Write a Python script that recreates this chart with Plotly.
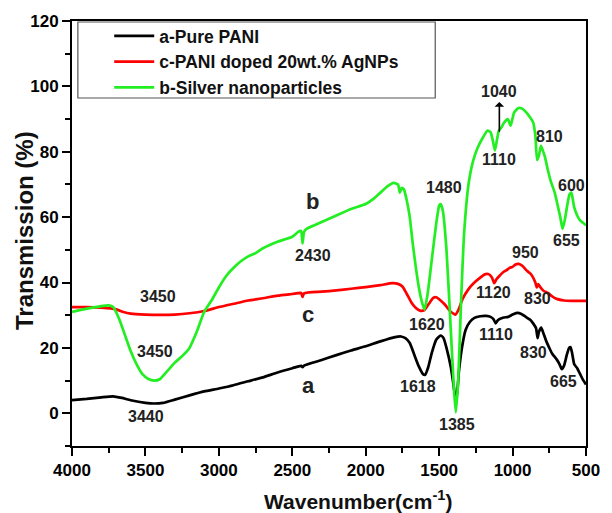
import plotly.graph_objects as go

# ---------------- data ----------------
wn_a = [4000, 3900, 3800, 3720, 3660, 3600, 3500, 3440, 3380, 3300, 3200, 3100, 3000, 2900,
        2800, 2700, 2600, 2500, 2440, 2430, 2420, 2300, 2200, 2100, 2000, 1900, 1800, 1760,
        1730, 1700, 1670, 1640, 1610, 1595, 1575, 1550, 1520, 1490, 1470, 1450, 1420, 1400,
        1390, 1380, 1365, 1345, 1320, 1290, 1260, 1220, 1180, 1150, 1130, 1115, 1100, 1080,
        1060, 1030, 1000, 970, 940, 910, 880, 860, 840, 830, 820, 805, 790, 770, 750, 730,
        700, 680, 665, 650, 630, 615, 605, 595, 580, 560, 540, 520, 500]
tr_a = [4.0, 4.4, 4.9, 5.2, 4.7, 4.0, 3.2, 3.0, 3.2, 4.2, 5.5, 6.7, 7.6, 8.6,
        9.8, 11.0, 12.5, 13.8, 14.5, 14.1, 14.6, 16.3, 17.8, 19.2, 20.5, 22.0, 23.3, 23.5,
        23.0, 21.5, 18.0, 14.5, 12.0, 11.8, 14.0, 18.5, 22.5, 23.8, 23.0, 20.0, 14.0, 8.0,
        5.0, 5.5, 13.0, 20.0, 25.5, 28.0, 29.2, 29.7, 29.8, 29.5, 28.8, 27.5, 28.5, 29.0,
        29.3, 29.5, 30.2, 30.7, 30.4, 29.5, 28.6, 27.5, 26.0, 23.0, 25.0, 26.2, 24.5, 22.0, 20.0, 18.2,
        16.5, 15.0, 13.5, 14.5, 18.0, 20.0, 20.2, 18.5, 15.0, 13.8, 12.0, 10.2, 8.8]

wn_c = [4000, 3900, 3800, 3700, 3650, 3600, 3500, 3400, 3300, 3200, 3100, 3000, 2900, 2800,
        2700, 2600, 2500, 2440, 2430, 2420, 2300, 2200, 2100, 2000, 1900, 1820, 1780, 1750,
        1720, 1690, 1660, 1630, 1600, 1570, 1540, 1520, 1490, 1460, 1430, 1400, 1390, 1370,
        1340, 1300, 1260, 1220, 1190, 1160, 1140, 1125, 1110, 1090, 1060, 1040, 1020, 1000,
        980, 960, 940, 920, 900, 880, 860, 845, 835, 825, 810, 790, 760, 730, 700, 650,
        600, 500]
tr_c = [32.5, 32.5, 32.3, 31.8, 31.0, 30.5, 30.2, 30.1, 30.2, 30.6, 31.3, 32.5, 33.5, 34.5,
        35.2, 36.0, 36.5, 36.8, 35.6, 36.7, 37.2, 37.6, 38.1, 38.6, 39.2, 39.8, 39.6, 38.8,
        36.5, 34.0, 32.3, 31.4, 31.6, 33.5, 35.3, 35.5, 34.5, 33.2, 31.5, 30.4, 30.2, 31.5,
        35.0, 38.0, 40.0, 41.5, 42.5, 42.5, 41.5, 39.8, 41.0, 42.0, 43.3, 43.8, 44.5, 44.8,
        45.5, 45.7, 45.3, 44.5, 43.5, 42.8, 41.5, 40.0, 38.5, 39.5, 38.5, 37.5, 36.8, 35.8, 35.0, 34.5,
        34.4, 34.4]

wn_b = [4000, 3900, 3800, 3750, 3720, 3680, 3640, 3600, 3560, 3520, 3480, 3440, 3400, 3350,
        3300, 3250, 3200, 3150, 3100, 3050, 3000, 2950, 2900, 2850, 2800, 2750, 2700, 2600,
        2500, 2460, 2440, 2430, 2420, 2400, 2300, 2200, 2100, 2000, 1950, 1900, 1850, 1810,
        1780, 1768, 1755, 1740, 1720, 1700, 1680, 1660, 1640, 1620, 1600, 1580, 1550, 1520,
        1500, 1490, 1475, 1450, 1420, 1400, 1387, 1370, 1350, 1330, 1300, 1270, 1240, 1200,
        1170, 1150, 1135, 1120, 1105, 1093, 1075, 1060, 1033, 1013, 990, 960, 935, 905, 880,
        860, 845, 833, 820, 807, 795, 780, 760, 740, 713, 690, 675, 660, 645, 630, 613,
        600, 590, 580, 560, 540, 520, 500]
tr_b = [31.0, 32.0, 32.8, 33.0, 32.5, 29.0, 24.0, 19.0, 15.0, 12.0, 10.5, 10.0, 10.5, 13.0,
        15.5, 17.5, 20.0, 25.0, 31.0, 34.5, 38.5, 42.0, 44.5, 46.5, 48.0, 49.0, 50.5, 52.5,
        54.0, 55.5, 55.8, 52.0, 55.5, 56.5, 58.5, 60.5, 62.5, 64.0, 65.5, 67.5, 69.5, 70.5,
        70.0, 67.5, 69.0, 68.5, 65.0, 60.0, 52.0, 45.0, 39.0, 34.5, 31.7, 36.0, 47.0, 58.0,
        63.5, 64.0, 62.0, 50.0, 25.0, 8.0, 0.3, 10.0, 35.0, 55.0, 70.0, 77.0, 81.0, 84.5,
        86.5, 86.0, 83.5, 80.4, 84.0, 86.5, 87.5, 88.8, 90.0, 88.0, 92.0, 93.4, 93.2, 92.0, 90.5,
        89.0, 85.0, 77.5, 79.0, 81.8, 80.5, 78.5, 74.5, 71.0, 67.5, 63.0, 60.0, 56.5, 59.0, 63.0, 66.9,
        67.5, 65.5, 63.0, 60.5, 59.0, 58.3, 57.5]

series_names = ["a-Pure PANI", "c-PANI doped 20wt.% AgNPs", "b-Silver nanoparticles"]
series_colors = ["#000000", "#ff0000", "#22ee22"]

peak_labels = ["3450", "3450", "3440", "2430", "1480", "1620", "1618", "1385", "1110",
               "810", "600", "655", "950", "1120", "830", "1110", "830", "665"]
peak_label_x = [3413, 3433, 3493, 2360, 1467, 1580, 1647, 1380, 1093,
                747, 600, 633, 913, 1133, 827, 1113, 860, 653]
peak_label_y = [35.7, 18.9, -0.9, 48.2, 69.0, 27.2, 8.2, -3.4, 77.6,
                84.6, 69.6, 52.8, 49.2, 36.9, 35.1, 24.1, 18.6, 9.8]

curve_letters = ["b", "c", "a"]
curve_letter_x = [2360, 2393, 2393]
curve_letter_y = [64.7, 30.2, 8.5]

# arrowed label: arrow rises from the curve up to the label
arrow_label = "1040"
arrow_x = 1090
arrow_y_from = 86.1
arrow_label_y = 98.3

x_ticks = [4000, 3500, 3000, 2500, 2000, 1500, 1000, 500]
y_ticks = [0, 20, 40, 60, 80, 100, 120]

# ---------------- figure ----------------
FONT = "Liberation Sans, Arial, Helvetica, sans-serif"
LABEL_FONT = dict(family=FONT, size=16, color="#222222", weight="bold")

fig = go.Figure()
for wn, tr, name, col in zip([wn_a, wn_c, wn_b], [tr_a, tr_c, tr_b], series_names, series_colors):
    fig.add_trace(go.Scatter(x=wn, y=tr, mode="lines", name=name,
                             line=dict(color=col, width=2.7, shape="spline", smoothing=0.5)))

for t, x, y in zip(peak_labels, peak_label_x, peak_label_y):
    fig.add_annotation(x=x, y=y, text=t, showarrow=False, font=LABEL_FONT,
                       xanchor="center", yanchor="middle")

for t, x, y in zip(curve_letters, curve_letter_x, curve_letter_y):
    fig.add_annotation(x=x, y=y, text=t, showarrow=False,
                       font=dict(family=FONT, size=22, color="#222222", weight="bold"),
                       xanchor="center", yanchor="middle")

fig.add_annotation(x=arrow_x, y=arrow_y_from, ax=arrow_x, ay=arrow_label_y,
                   xref="x", yref="y", axref="x", ayref="y", text=arrow_label,
                   font=LABEL_FONT, showarrow=True, arrowside="start",
                   arrowhead=2, arrowsize=1.2, arrowwidth=1.6, arrowcolor="#000000",
                   standoff=0, startstandoff=0)

# axis titles
fig.add_annotation(xref="paper", yref="paper", x=(365 - 72) / 525, y=(446 - 500) / 425,
                   text="Wavenumber(cm<sup>-1</sup>)", showarrow=False,
                   font=dict(family=FONT, size=21, color="#111111", weight="bold"),
                   xanchor="center", yanchor="middle")
fig.add_annotation(xref="paper", yref="paper", x=(23 - 72) / 525, y=(446 - 231) / 425,
                   text="Transmission (%)", showarrow=False, textangle=-90,
                   font=dict(family=FONT, size=24, color="#111111", weight="bold"),
                   xanchor="center", yanchor="middle")

# legend frame
fig.add_shape(type="rect", xref="paper", yref="paper",
              x0=(78 - 72) / 525, x1=(443 - 72) / 525,
              y0=(446 - 98) / 425, y1=(446 - 22) / 425,
              line=dict(color="#555555", width=1.2), fillcolor="rgba(0,0,0,0)")

axis_common = dict(showgrid=False, zeroline=False, showline=True, linewidth=2,
                   linecolor="black", mirror=True, ticks="outside", tickwidth=2,
                   ticklen=8, tickcolor="black",
                   tickfont=dict(family=FONT, size=17, color="black", weight="bold"))

fig.update_xaxes(range=[4000, 500], tickvals=x_ticks,
                 minor=dict(dtick=250, tick0=0, ticklen=5, tickwidth=2,
                            ticks="outside", tickcolor="black"),
                 **axis_common)
fig.update_yaxes(range=[-10, 120], tickvals=y_ticks,
                 minor=dict(dtick=10, tick0=0, ticklen=5, tickwidth=2,
                            ticks="outside", tickcolor="black"),
                 **axis_common)

fig.update_layout(
    width=612, height=513,
    margin=dict(l=72, r=15, t=21, b=67),
    plot_bgcolor="white", paper_bgcolor="white",
    showlegend=True,
    legend=dict(x=(110 - 72) / 525, y=(446 - 18) / 425, xanchor="left", yanchor="top",
                bgcolor="rgba(0,0,0,0)", borderwidth=0,
                font=dict(family=FONT, size=17.5, color="#111111", weight="bold"),
                itemwidth=40, tracegroupgap=0),
)

fig.write_html("out.html")
